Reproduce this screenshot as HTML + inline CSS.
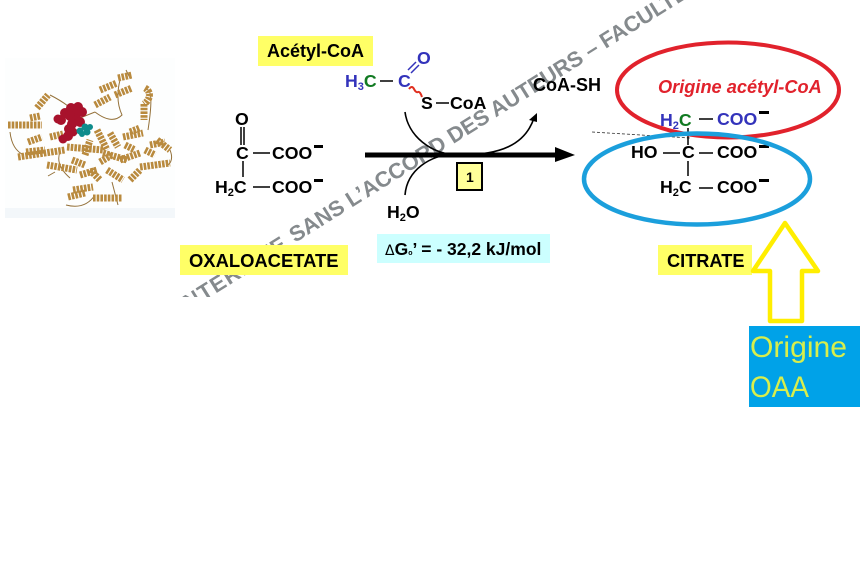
<!DOCTYPE html>
<html><head><meta charset="utf-8"><style>
html,body{margin:0;padding:0;background:#fff;width:860px;height:575px;overflow:hidden}
svg{display:block}
text{font-family:"Liberation Sans",sans-serif;font-weight:bold;font-size:17.7px;fill:#000}
.b{fill:#3333bb}.g{fill:#117a22}
.s{font-size:11px}
.h{fill:none;stroke:#b98a3e;stroke-width:7;stroke-dasharray:2.6 1.1}
.l{fill:none;stroke:#94713a;stroke-width:1}
</style></head><body>
<svg width="860" height="575" viewBox="0 0 860 575" xmlns="http://www.w3.org/2000/svg">
<defs><clipPath id="wm"><rect x="0" y="0" width="860" height="297"/></clipPath></defs>
<rect width="860" height="575" fill="#fff"/>

<!-- protein -->
<rect x="5" y="58" width="170" height="160" fill="#fdfefe"/>
<rect x="5" y="208" width="170" height="10" fill="#f3f7fa"/>
<g>
<path class="l" d="M10 132 Q12 150 24 155M50 95 Q60 100 68 106M120 80 Q115 100 122 115 Q112 125 95 112M145 90 Q155 85 148 130M60 152 Q55 165 70 178M66 205 Q85 210 95 195M126 70 L130 78M55 172 L48 176M95 112 L80 118M112 182 L118 205M170 150 Q174 160 168 165"/>
<path class="h" d="M8 125H42M37 108L48 95M30 118L40 116M28 142L42 137M18 157L65 150M26 152L45 150M50 137L63 134M47 165L77 170M67 147L103 150M97 130L107 150M110 133L118 147M123 137L143 133M130 132L140 128M157 140L170 150M120 160L140 153M140 167L170 163M130 180L140 170M107 170L123 180M90 170L100 180M73 190L93 187M68 197L85 193M93 198L122 198M103 153L127 160M95 105L110 97M100 90L117 83M115 95L132 88M118 78L132 75M145 88C152 92 150 100 144 104M144 104V120M85 155L90 140M72 160L85 165M80 175L97 170M100 162L112 155M125 145L135 150M145 150L155 155M150 145L165 142"/>
<g fill="#a8122c">
<circle cx="61" cy="120" r="5"/><circle cx="58" cy="119" r="4.5"/><circle cx="65" cy="113" r="5"/><circle cx="71" cy="108" r="5"/><circle cx="78" cy="107" r="5"/><circle cx="75" cy="114" r="5"/><circle cx="82" cy="112" r="5"/><circle cx="70" cy="116" r="5"/><circle cx="77" cy="120" r="5"/><circle cx="72" cy="124" r="5"/><circle cx="80" cy="122" r="5"/><circle cx="69" cy="129" r="5"/><circle cx="73" cy="132" r="4.5"/><circle cx="68" cy="136" r="5"/><circle cx="63" cy="139" r="4.5"/>
</g>
<g fill="#0f8c8c">
<circle cx="80" cy="131" r="3.5"/><circle cx="85" cy="127" r="3.5"/><circle cx="90" cy="127" r="3"/><circle cx="87" cy="132" r="3.5"/><circle cx="82" cy="134" r="3"/>
</g>
</g>

<!-- watermark -->
<g clip-path="url(#wm)">
<text transform="translate(183 314) rotate(-32)" style="font-size:21.8px;fill:#858a8d" textLength="124">INTERDITE</text>
<text transform="translate(295 243) rotate(-32)" style="font-size:21.8px;fill:#858a8d">SANS L’ACCORD DES AUTEURS – FACULTÉ</text>
</g>

<!-- label boxes -->
<rect x="258" y="36" width="115" height="30" fill="#ffff66"/>
<text x="267" y="57" style="font-size:18px">Acétyl-CoA</text>
<rect x="180" y="245" width="168" height="30" fill="#ffff66"/>
<text x="189" y="267" style="font-size:18.4px">OXALOACETATE</text>
<rect x="658" y="245" width="94" height="30" fill="#ffff66"/>
<text x="667" y="267" style="font-size:18.2px">CITRATE</text>
<rect x="377" y="234" width="173" height="29" fill="#ccffff"/>
<text x="385" y="255" style="font-size:17.5px"><tspan style="font-family:'DejaVu Sans',sans-serif;font-weight:normal;font-size:14px">Δ</tspan>G<tspan style="font-size:7px">o</tspan>’ = - 32,2 kJ/mol</text>

<!-- oxaloacetate -->
<g stroke="#000" stroke-width="1.5" fill="none">
<path d="M241 127V145M244 127V145M243 161V177M253 153H270M253 187H270"/>
</g>
<text x="235" y="125">O</text>
<text x="236" y="159">C</text>
<text x="272" y="159">COO</text>
<rect x="314" y="145" width="9" height="3"/>
<text x="215" y="193">H<tspan class="s" dy="3">2</tspan><tspan dy="-3">C</tspan></text>
<text x="272" y="193">COO</text>
<rect x="314" y="179" width="9" height="3"/>

<!-- acetyl-CoA -->
<text x="345" y="87" class="b">H<tspan class="s" dy="3">3</tspan><tspan dy="-3" class="g">C</tspan></text>
<path d="M380 81H393" stroke="#000" stroke-width="1.5"/>
<text x="398" y="87" class="b">C</text>
<text x="417" y="64" class="b">O</text>
<path d="M408 70L416 62M411 73L419 65" stroke="#3333bb" stroke-width="1.5"/>
<path d="M409 89Q412 85 414 89T418 92T422 97" fill="none" stroke="#e03020" stroke-width="2"/>
<text x="421" y="109">S</text>
<path d="M436 103H449" stroke="#000" stroke-width="1.5"/>
<text x="450" y="109">CoA</text>
<text x="533" y="91" style="font-size:18px">CoA-SH</text>

<!-- reaction arrows -->
<path d="M405 112C408 135 430 155 460 155C500 155 525 145 534 118" fill="none" stroke="#000" stroke-width="1.6"/>
<path d="M537 113L529 120L537 122Z"/>
<path d="M405 195C407 170 430 155 455 154" fill="none" stroke="#000" stroke-width="1.6"/>
<rect x="365" y="152.5" width="191" height="5"/>
<path d="M555 147L575 155L555 162Z"/>
<rect x="457" y="163" width="25" height="27" fill="#ffff99" stroke="#000" stroke-width="2"/>
<text x="466" y="182" style="font-size:14px">1</text>
<text x="387" y="218">H<tspan class="s" dy="3">2</tspan><tspan dy="-3">O</tspan></text>

<!-- citrate -->
<path d="M592 132L690 138" stroke="#333" stroke-width="0.8" stroke-dasharray="3 2" fill="none"/>
<text x="660" y="126" class="b">H<tspan class="s" dy="3">2</tspan><tspan dy="-3" class="g">C</tspan></text>
<text x="717" y="125" class="b">COO</text>
<rect x="759" y="111" width="10" height="3"/>
<g stroke="#000" stroke-width="1.5" fill="none">
<path d="M699 119H713M688 128V145M663 153H680M699 153H713M688 161V176M699 188H713"/>
</g>
<text x="631" y="158">HO</text>
<text x="682" y="158">C</text>
<text x="717" y="158">COO</text>
<rect x="759" y="145" width="10" height="3"/>
<text x="660" y="193">H<tspan class="s" dy="3">2</tspan><tspan dy="-3">C</tspan></text>
<text x="717" y="193">COO</text>
<rect x="759" y="179" width="10" height="3"/>

<!-- ellipses -->
<ellipse cx="728" cy="90" rx="111" ry="47.5" fill="none" stroke="#e1222c" stroke-width="4"/>
<ellipse cx="697" cy="179" rx="113" ry="45.5" fill="none" stroke="#1b9fdc" stroke-width="4.5"/>
<text x="658" y="93" style="font-style:italic;fill:#e1222c;font-size:18.2px">Origine acétyl-CoA</text>

<!-- yellow arrow -->
<path d="M785 223L753 271H770V321H802V271H818Z" fill="#fff" stroke="#ffee00" stroke-width="4.5" stroke-linejoin="round"/>
<rect x="749" y="326" width="111" height="81" fill="#00a2e8"/>
<text x="750" y="357" style="font-weight:normal;font-size:30px;fill:#d8ee4c" textLength="97" lengthAdjust="spacingAndGlyphs">Origine</text>
<text x="750" y="397" style="font-weight:normal;font-size:30px;fill:#d8ee4c" textLength="59" lengthAdjust="spacingAndGlyphs">OAA</text>
</svg>
</body></html>
